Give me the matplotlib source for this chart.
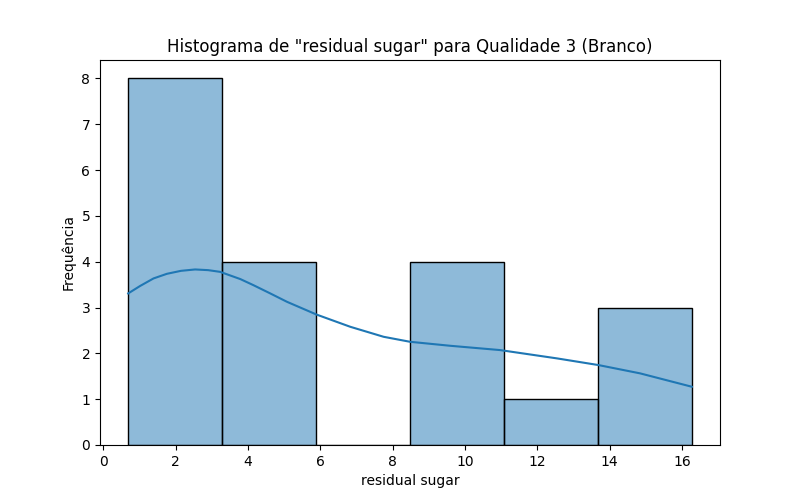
import matplotlib
matplotlib.use("Agg")
import matplotlib.pyplot as plt
from matplotlib.colors import to_rgba
import numpy as np

bin_edges = [0.69, 3.29, 5.88, 8.48, 11.08, 13.67, 16.27]
counts = [8, 4, 0, 4, 1, 3]

kde_x = [0.69, 1.02, 1.39, 1.76, 2.15, 2.54, 2.90, 3.23, 3.79, 4.15, 4.61,
         5.08, 5.90, 6.83, 7.75, 8.48, 9.59, 10.97, 12.54, 13.69, 14.84, 16.27]
kde_y = [3.307, 3.470, 3.634, 3.735, 3.800, 3.830, 3.815, 3.778, 3.620, 3.488,
         3.310, 3.124, 2.845, 2.579, 2.361, 2.252, 2.165, 2.071, 1.890, 1.744,
         1.563, 1.271]

fig, ax = plt.subplots(figsize=(8, 5), dpi=100)
edges = np.array(bin_edges)
widths = np.diff(edges)
ax.bar(edges[:-1], counts, width=widths, align="edge",
       facecolor=to_rgba("#1f77b4", 0.5), edgecolor="black", linewidth=1)
ax.plot(kde_x, kde_y, color="#1f77b4", linewidth=1.5)
ax.margins(x=0.05)
ax.set_ylim(0, 8.4)
ax.set_title('Histograma de "residual sugar" para Qualidade 3 (Branco)')
ax.set_xlabel("residual sugar")
ax.set_ylabel("Frequência")
fig.savefig("out.png", dpi=100)
